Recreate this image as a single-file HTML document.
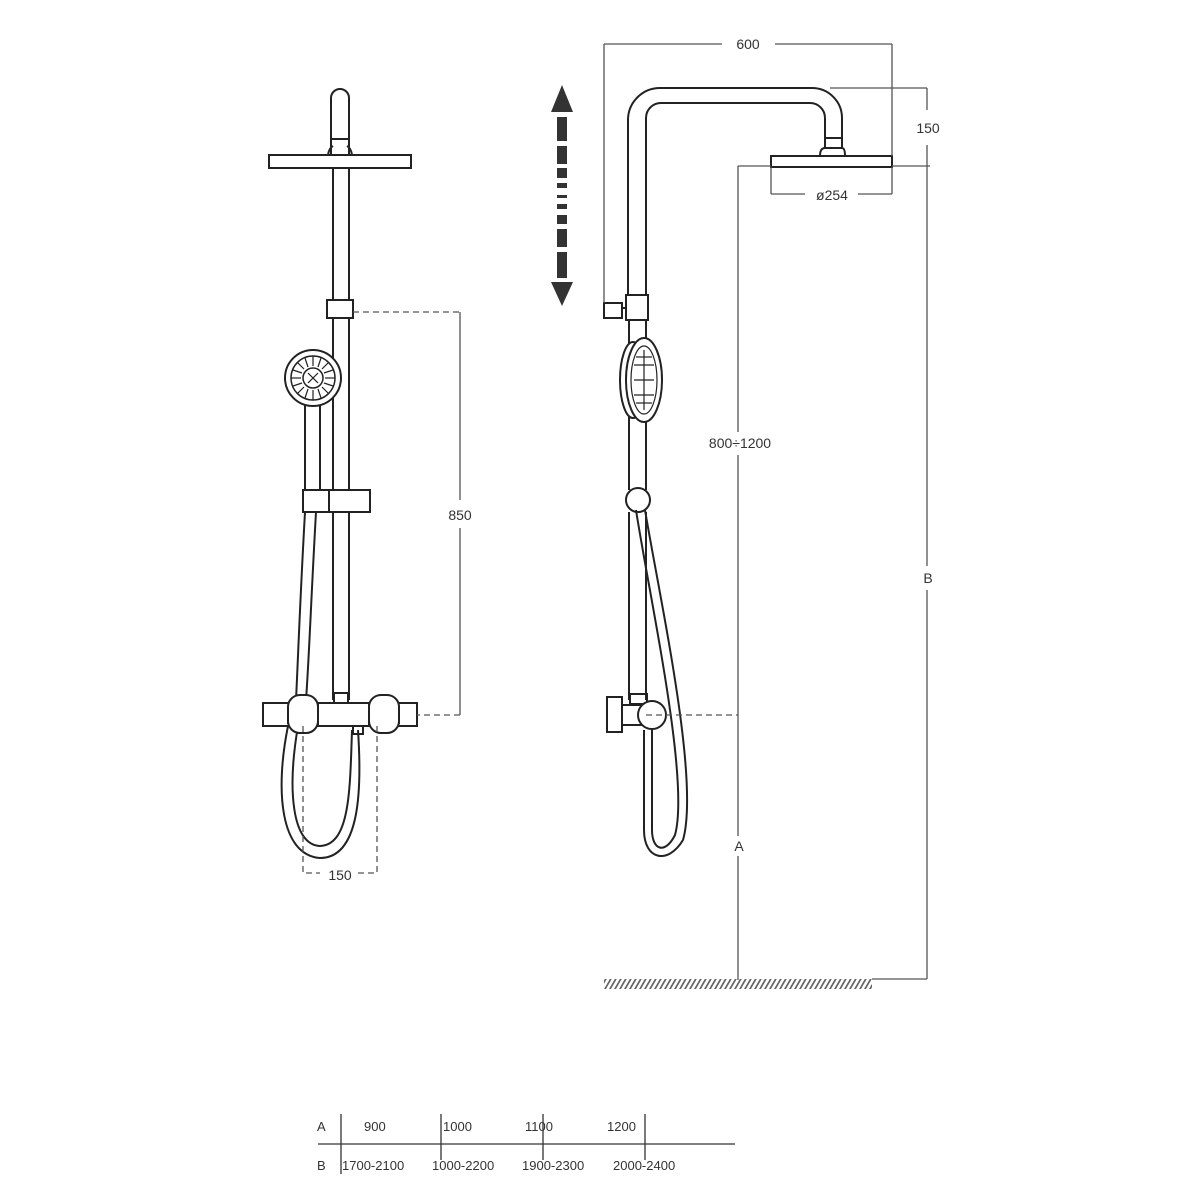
<!DOCTYPE html>
<html><head><meta charset="utf-8"><style>
html,body{margin:0;padding:0;background:#fff}
svg{display:block}
text{font-family:"Liberation Sans",sans-serif;fill:#333}
</style></head><body>
<svg width="1200" height="1200" viewBox="0 0 1200 1200" xmlns="http://www.w3.org/2000/svg">
<defs>
<pattern id="hatch" width="5" height="10" patternUnits="userSpaceOnUse" patternTransform="skewX(-30)">
<rect x="0" y="0" width="2" height="10" fill="#666"/>
</pattern>
</defs>
<g fill="none" stroke="#222" stroke-width="2">
<path d="M331,155 L331,98 A9,9 0 0 1 349,98 L349,155"/>
<line x1="332" y1="139" x2="348" y2="139"/>
<path d="M328,155 Q329,148 333,146 M352,155 Q351,148 347,146"/>
<rect x="269" y="155" width="142" height="13" fill="#fff"/>
<line x1="333" y1="168" x2="333" y2="300"/>
<line x1="349" y1="168" x2="349" y2="300"/>
<rect x="327" y="300" width="26" height="18" fill="#fff"/>
<line x1="333" y1="318" x2="333" y2="490"/>
<line x1="349" y1="318" x2="349" y2="490"/>
<line x1="333" y1="512" x2="333" y2="700"/>
<line x1="349" y1="512" x2="349" y2="700"/>
<circle cx="313" cy="378" r="28" fill="#fff"/>
<circle cx="313" cy="378" r="22" stroke-width="1.5"/>
<circle cx="313" cy="378" r="10" stroke-width="1.5"/>
<g stroke-width="1.2">
<line x1="313" y1="356" x2="313" y2="366"/><line x1="313" y1="390" x2="313" y2="400"/>
<line x1="291" y1="378" x2="301" y2="378"/><line x1="325" y1="378" x2="335" y2="378"/>
<line x1="297" y1="362" x2="304" y2="369"/><line x1="322" y1="387" x2="329" y2="394"/>
<line x1="329" y1="362" x2="322" y2="369"/><line x1="297" y1="394" x2="304" y2="387"/>
<line x1="305" y1="358" x2="308" y2="367"/><line x1="318" y1="389" x2="321" y2="398"/>
<line x1="321" y1="358" x2="318" y2="367"/><line x1="305" y1="398" x2="308" y2="389"/>
<line x1="293" y1="370" x2="302" y2="373"/><line x1="324" y1="383" x2="333" y2="386"/>
<line x1="333" y1="370" x2="324" y2="373"/><line x1="293" y1="386" x2="302" y2="383"/>
<line x1="308" y1="373" x2="318" y2="383"/><line x1="318" y1="373" x2="308" y2="383"/>
</g>
<line x1="305" y1="405" x2="305" y2="490"/>
<line x1="320" y1="405" x2="320" y2="490"/>
<rect x="303" y="490" width="67" height="22" fill="#fff"/>
<line x1="329" y1="490" x2="329" y2="512"/>
<path d="M305,512 C300,600 298,660 296,700"/>
<path d="M316,512 C311,600 309,660 306,700"/>
<path d="M288,726 C275,790 280,855 320,858 C360,858 362,790 358,730"/>
<path d="M298,726 C287,790 292,845 320,846 C350,845 350,790 352,730"/>
<rect x="263" y="703" width="154" height="23" fill="#fff"/>
<rect x="288" y="695" width="30" height="38" rx="12" fill="#fff"/>
<rect x="369" y="695" width="30" height="38" rx="12" fill="#fff"/>
<rect x="318" y="703" width="51" height="23"/>
<rect x="334" y="693" width="14" height="10"/>
<line x1="288" y1="706" x2="288" y2="724"/>
<line x1="399" y1="706" x2="399" y2="724"/>
<rect x="353" y="726" width="10" height="8"/>
<path d="M628,295 L628,120 A32,32 0 0 1 660,88 L812,88 A30,30 0 0 1 842,118 L842,148"/>
<path d="M646,295 L646,118 A15,15 0 0 1 661,103 L810,103 A15,15 0 0 1 825,118 L825,148"/>
<line x1="825" y1="138" x2="842" y2="138"/>
<path d="M820,156 Q820,148 825,148 L842,148 Q845,148 845,156"/>
<rect x="771" y="156" width="121" height="11" fill="#fff"/>
<rect x="626" y="295" width="22" height="25" fill="#fff"/>
<rect x="604" y="303" width="18" height="15"/>
<line x1="622" y1="308" x2="626" y2="308"/>
<line x1="629" y1="320" x2="629" y2="490"/>
<line x1="646" y1="320" x2="646" y2="490"/>
<ellipse cx="633" cy="380" rx="13" ry="38" fill="#fff"/>
<ellipse cx="644" cy="380" rx="18" ry="42" fill="#fff"/>
<ellipse cx="644" cy="380" rx="13" ry="34" stroke-width="1.2"/>
<g stroke-width="1.2">
<line x1="644" y1="350" x2="644" y2="410"/>
<line x1="634" y1="365" x2="654" y2="365"/><line x1="634" y1="380" x2="654" y2="380"/><line x1="634" y1="395" x2="654" y2="395"/>
<line x1="636" y1="357" x2="652" y2="357"/><line x1="636" y1="403" x2="652" y2="403"/>
</g>
<line x1="646" y1="422" x2="646" y2="490"/>
<circle cx="638" cy="500" r="12" fill="#fff"/>
<line x1="629" y1="512" x2="629" y2="700"/>
<line x1="646" y1="512" x2="646" y2="700"/>
<path d="M636,510 C650,600 690,780 675,835 C665,855 652,850 652,830 L652,730"/>
<path d="M645,510 C660,600 700,780 683,840 C668,865 644,860 644,830 L644,730"/>
<rect x="607" y="697" width="15" height="35" fill="#fff"/>
<rect x="622" y="705" width="20" height="20" fill="#fff"/>
<rect x="630" y="694" width="17" height="10"/>
<circle cx="652" cy="715" r="14" fill="#fff"/>
</g>
<g fill="none" stroke="#555" stroke-width="1.3">
<path d="M353,312 L460,312 M460,715 L417,715" stroke-dasharray="6,4"/>
<line x1="460" y1="312" x2="460" y2="500"/><line x1="460" y1="528" x2="460" y2="715"/>
<path d="M303,726 L303,873 L320,873 M358,873 L377,873 L377,726" stroke-dasharray="6,4"/>
<path d="M646,715 L738,715" stroke-dasharray="6,4"/>
<line x1="604" y1="44" x2="722" y2="44"/><line x1="775" y1="44" x2="892" y2="44"/>
<line x1="604" y1="44" x2="604" y2="303"/>
<line x1="892" y1="44" x2="892" y2="156"/>
<line x1="830" y1="88" x2="927" y2="88"/>
<line x1="927" y1="88" x2="927" y2="110"/><line x1="927" y1="145" x2="927" y2="566"/>
<line x1="927" y1="590" x2="927" y2="979"/>
<line x1="738" y1="166" x2="771" y2="166"/><line x1="892" y1="166" x2="930" y2="166"/>
<line x1="771" y1="167" x2="771" y2="194"/><line x1="892" y1="167" x2="892" y2="194"/>
<line x1="771" y1="194" x2="805" y2="194"/><line x1="858" y1="194" x2="892" y2="194"/>
<line x1="738" y1="166" x2="738" y2="432"/><line x1="738" y1="455" x2="738" y2="836"/>
<line x1="738" y1="856" x2="738" y2="980"/>
<line x1="872" y1="979" x2="927" y2="979"/>
</g>
<rect x="604" y="979" width="268" height="10" fill="url(#hatch)"/>
<g fill="#333">
<polygon points="562,85 551,112 573,112"/>
<rect x="557" y="117" width="10" height="24"/>
<rect x="557" y="146" width="10" height="18"/>
<rect x="557" y="168" width="10" height="10"/>
<rect x="557" y="183" width="10" height="5"/>
<rect x="557" y="195" width="10" height="3"/>
<rect x="557" y="204" width="10" height="5"/>
<rect x="557" y="215" width="10" height="9"/>
<rect x="557" y="229" width="10" height="18"/>
<rect x="557" y="252" width="10" height="26"/>
<polygon points="551,282 573,282 562,306"/>
</g>
<g font-size="14">
<text x="460" y="520" text-anchor="middle">850</text>
<text x="340" y="880" text-anchor="middle">150</text>
<text x="748" y="49" text-anchor="middle">600</text>
<text x="928" y="133" text-anchor="middle">150</text>
<text x="832" y="200" text-anchor="middle">ø254</text>
<text x="740" y="448" text-anchor="middle">800÷1200</text>
<text x="739" y="851" text-anchor="middle">A</text>
<text x="928" y="583" text-anchor="middle">B</text>
</g>
<g stroke="#333" stroke-width="1.3">
<line x1="318" y1="1144" x2="735" y2="1144"/>
<line x1="341" y1="1114" x2="341" y2="1174"/>
<line x1="441" y1="1114" x2="441" y2="1160"/>
<line x1="543" y1="1114" x2="543" y2="1160"/>
<line x1="645" y1="1114" x2="645" y2="1160"/>
</g>
<g font-size="13">
<text x="317" y="1131">A</text>
<text x="364" y="1131">900</text>
<text x="443" y="1131">1000</text>
<text x="525" y="1131">1100</text>
<text x="607" y="1131">1200</text>
<text x="317" y="1170">B</text>
<text x="342" y="1170">1700-2100</text>
<text x="432" y="1170">1000-2200</text>
<text x="522" y="1170">1900-2300</text>
<text x="613" y="1170">2000-2400</text>
</g>
</svg>
</body></html>
